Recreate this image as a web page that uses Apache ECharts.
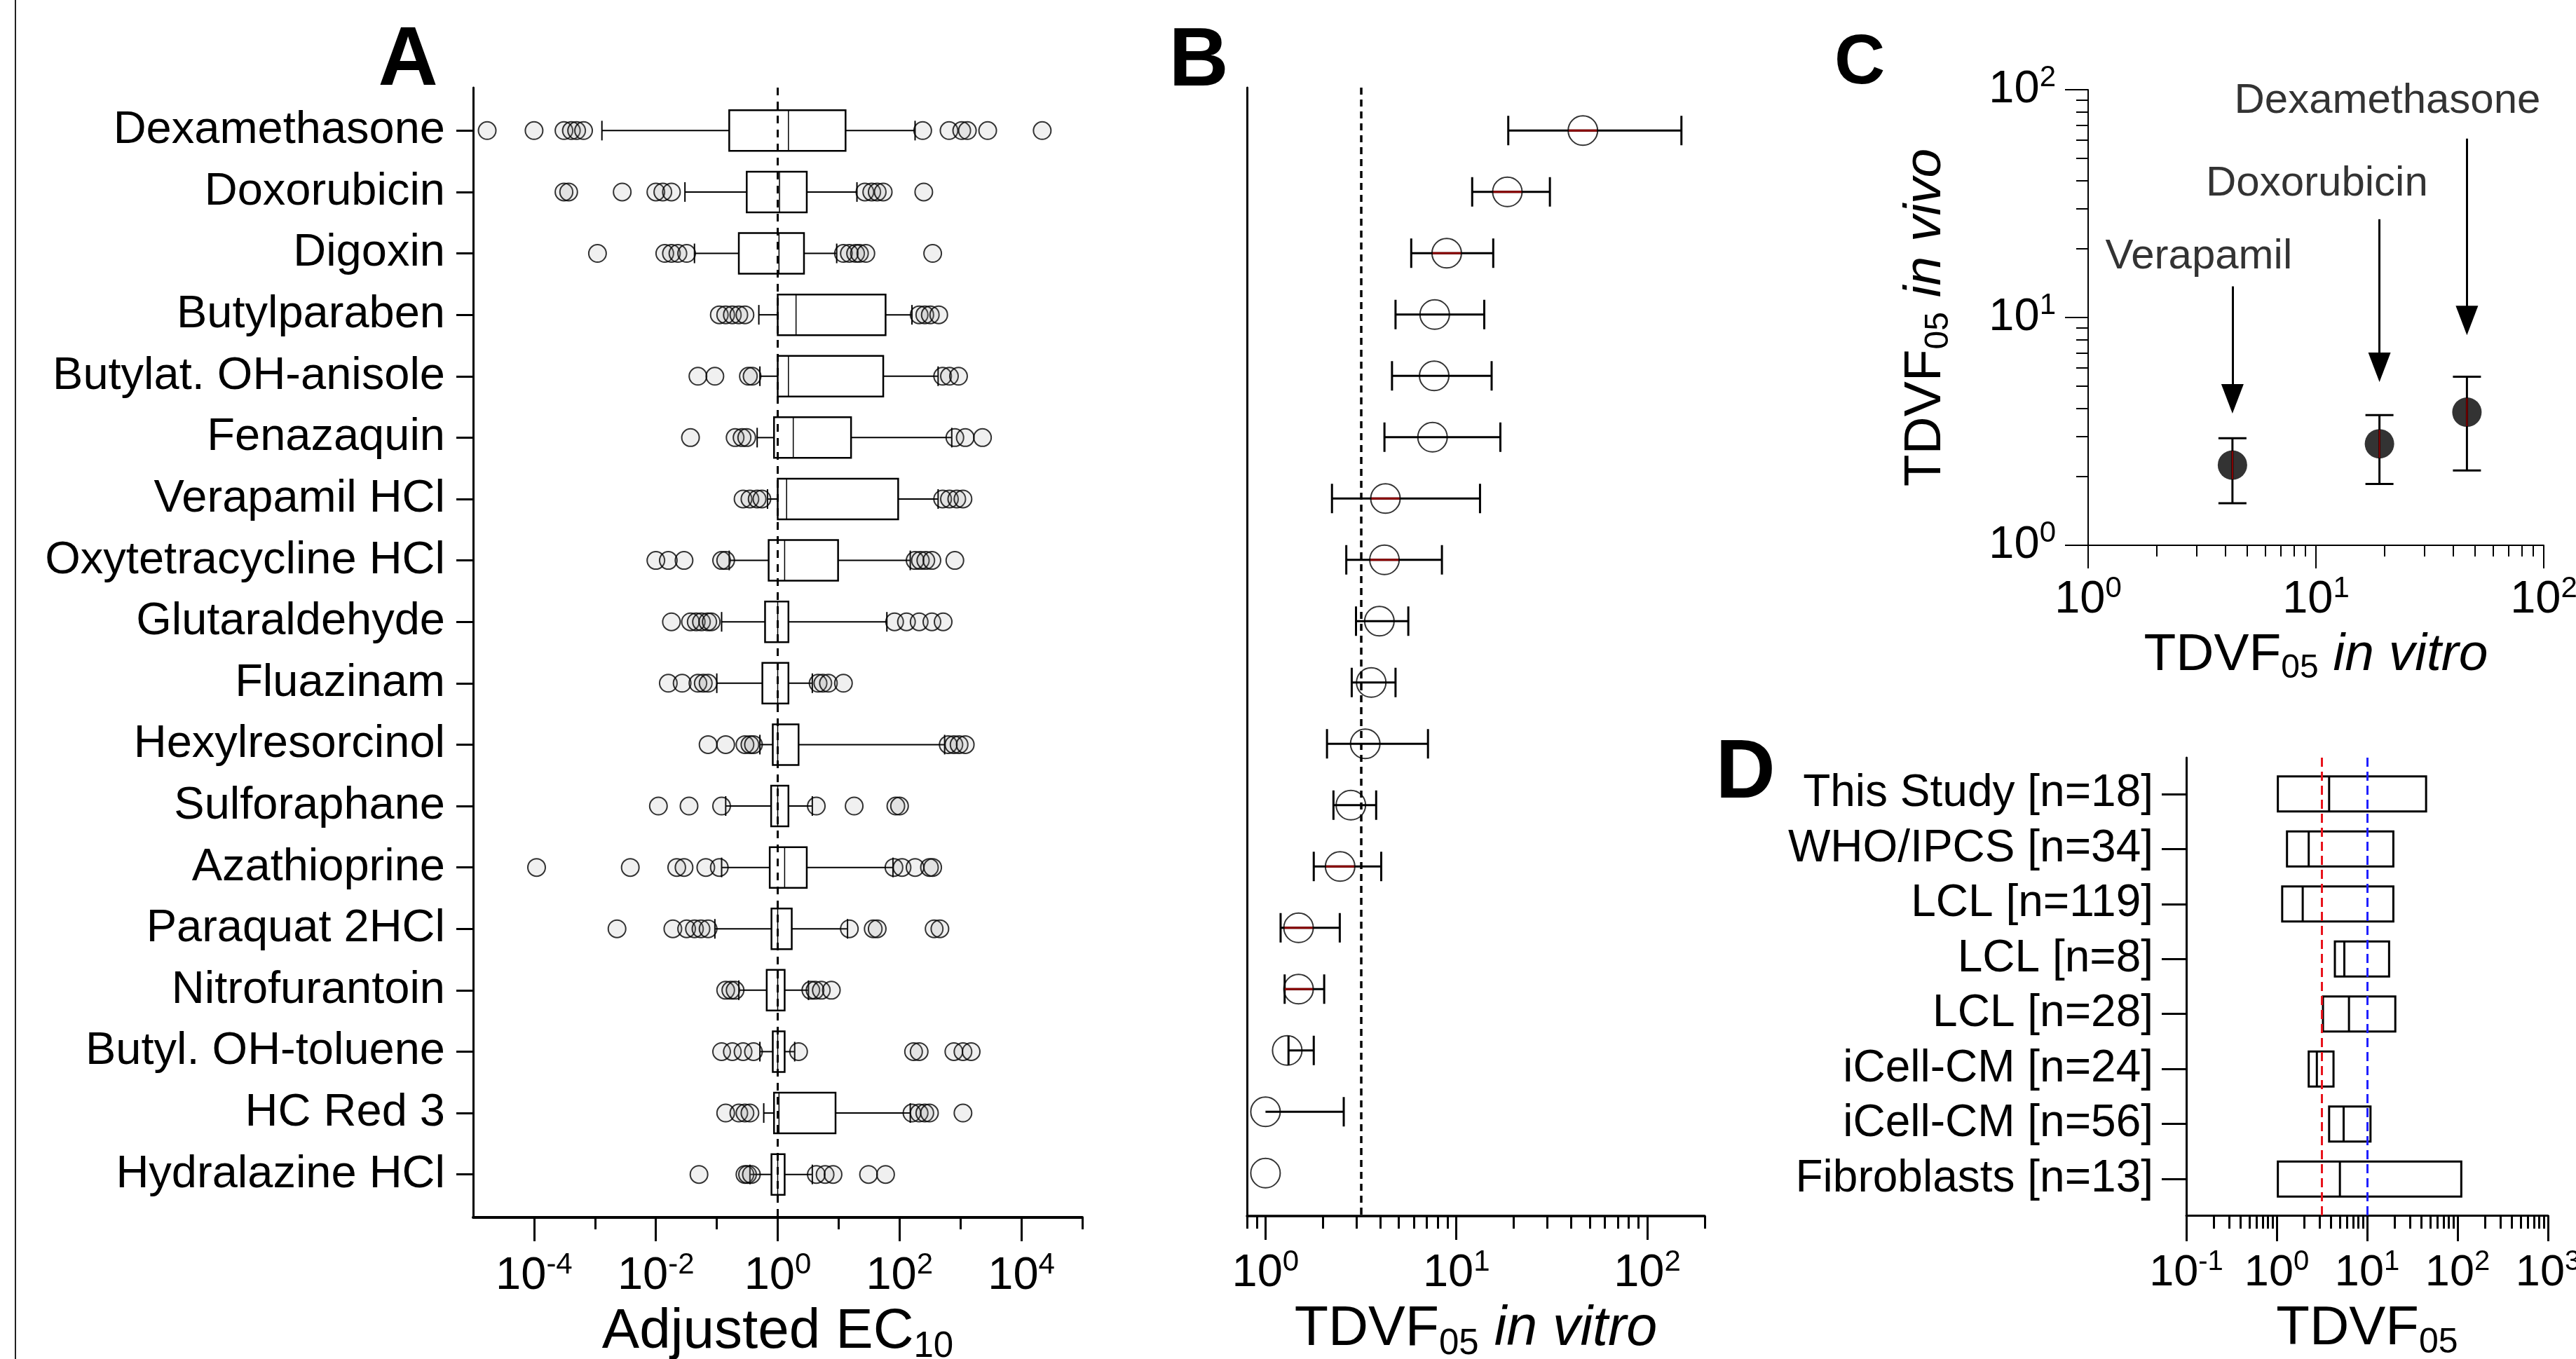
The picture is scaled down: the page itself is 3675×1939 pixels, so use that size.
<!DOCTYPE html>
<html>
<head>
<meta charset="utf-8">
<title>TDVF05 figure</title>
<script src="https://cdn.jsdelivr.net/npm/echarts@6/dist/echarts.min.js"></script>
<style>
  html, body { margin: 0; padding: 0; background: #fff; }
  #chart { width: 3675px; height: 1939px; }
</style>
</head>
<body>
<div id="chart"></div>
<script>
const FONT = '"Liberation Sans", Arial, Helvetica, sans-serif';
const lg = Math.log10;

// ---- Panel A: adjusted EC10 per chemical (box = quartiles, whiskers, outliers)
const chemicals = [
  'Dexamethasone', 'Doxorubicin', 'Digoxin', 'Butylparaben', 'Butylat. OH-anisole',
  'Fenazaquin', 'Verapamil HCl', 'Oxytetracycline HCl', 'Glutaraldehyde', 'Fluazinam',
  'Hexylresorcinol', 'Sulforaphane', 'Azathioprine', 'Paraquat 2HCl', 'Nitrofurantoin',
  'Butyl. OH-toluene', 'HC Red 3', 'Hydralazine HCl'
];
const ec10Low    = [0.0013, 0.030, 0.043, 0.49, 0.51, 0.46, 0.68, 0.16, 0.12, 0.10, 0.51, 0.14, 0.12, 0.093, 0.23, 0.51, 0.59, 0.35];
const ec10Q1     = [0.16, 0.31, 0.23, 1.0, 1.0, 0.87, 1.0, 0.71, 0.62, 0.56, 0.83, 0.78, 0.74, 0.79, 0.66, 0.83, 0.87, 0.79];
const ec10Median = [1.5, 1.07, 1.05, 2.0, 1.5, 1.8, 1.4, 1.3, 1.0, 1.0, 1.0, 1.0, 1.3, 1.0, 1.0, 1.0, 1.05, 1.0];
const ec10Q3     = [13, 3.0, 2.7, 59, 54, 16, 95, 9.8, 1.5, 1.5, 2.2, 1.5, 3.0, 1.7, 1.3, 1.3, 8.9, 1.3];
const ec10High   = [180, 20, 9.3, 160, 430, 720, 430, 150, 62, 3.7, 550, 3.7, 78, 14, 3.2, 1.9, 150, 3.7];
const ec10Outliers = [
  [1.7e-5, 1.0e-4, 3.1e-4, 4.1e-4, 5.0e-4, 6.5e-4, 240, 650, 1050, 1300, 2800, 22000],
  [3.1e-4, 3.7e-4, 2.8e-3, 0.010, 0.013, 0.018, 27, 35, 43, 54, 250],
  [1.1e-3, 0.014, 0.018, 0.023, 0.032, 12, 15, 19, 22, 28, 350],
  [0.11, 0.14, 0.18, 0.23, 0.29, 210, 260, 320, 440],
  [0.049, 0.093, 0.33, 0.38, 510, 660, 930],
  [0.037, 0.20, 0.26, 0.31, 810, 1200, 2300],
  [0.27, 0.35, 0.46, 0.55, 510, 660, 870, 1100],
  [0.010, 0.016, 0.029, 0.12, 0.14, 180, 220, 270, 340, 810],
  [0.018, 0.037, 0.046, 0.056, 0.071, 0.081, 83, 130, 210, 340, 520],
  [0.016, 0.027, 0.049, 0.060, 0.072, 4.6, 5.5, 6.8, 12],
  [0.072, 0.14, 0.29, 0.35, 0.40, 630, 780, 950, 1200],
  [0.011, 0.035, 0.12, 4.3, 18, 87, 100],
  [1.1e-4, 3.8e-3, 0.022, 0.029, 0.066, 0.11, 81, 110, 180, 310, 350],
  [2.3e-3, 0.019, 0.032, 0.043, 0.055, 0.072, 15, 37, 43, 370, 460],
  [0.14, 0.17, 0.20, 3.5, 4.1, 5.2, 7.6],
  [0.12, 0.18, 0.27, 0.40, 2.2, 170, 210, 780, 1100, 1500],
  [0.14, 0.23, 0.29, 0.35, 160, 210, 260, 310, 1100],
  [0.051, 0.29, 0.32, 0.37, 4.3, 6.0, 8.1, 31, 59]
];
const ec10Reference = 1;
const ec10LabelTicks = [1e-4, 1e-2, 1, 1e2, 1e4];
const ec10OtherTicks = [1e-3, 1e-1, 10, 1e3, 1e5];

// ---- Panel B: TDVF05 in vitro (same chemical order)
const tdvfVitro     = [46, 18.5, 8.9, 7.7, 7.65, 7.5, 4.25, 4.2, 3.95, 3.58, 3.33, 2.8, 2.46, 1.49, 1.49, 1.30, 1.0, 1.0];
const tdvfVitroLow  = [18.7, 12.1, 5.8, 4.8, 4.6, 4.2, 2.23, 2.65, 2.98, 2.83, 2.1, 2.27, 1.79, 1.2, 1.26, 1.32, 1.0, 1.0];
const tdvfVitroHigh = [151, 30.9, 15.6, 14.0, 15.3, 17.0, 13.3, 8.4, 5.6, 4.8, 7.1, 3.8, 4.04, 2.45, 2.03, 1.79, 2.57, 1.0];
const tdvfReference = 3.16;
const bLabelTicks = [1, 10, 100];
const bMinorTicks = [0.8, 0.9, 2, 3, 4, 5, 6, 7, 8, 9, 20, 30, 40, 50, 60, 70, 80, 90, 200];

// ---- Panel C: in vitro vs in vivo
const cDrugs    = ['Verapamil', 'Doxorubicin', 'Dexamethasone'];
const cVitro    = [4.3, 19, 46];
const cVivo     = [2.25, 2.79, 3.84];
const cVivoLow  = [1.53, 1.86, 2.13];
const cVivoHigh = [2.95, 3.73, 5.5];
const cLabelTicks = [1, 10, 100];
const cMinorTicks = [2, 3, 4, 5, 6, 7, 8, 9, 20, 30, 40, 50, 60, 70, 80, 90];

// ---- Panel D: TDVF05 ranges across studies
const studies = [
  'This Study [n=18]', 'WHO/IPCS [n=34]', 'LCL [n=119]', 'LCL [n=8]',
  'LCL [n=28]', 'iCell-CM [n=24]', 'iCell-CM [n=56]', 'Fibroblasts [n=13]'
];
const dLow    = [1.03, 1.3, 1.15, 4.4, 3.25, 2.26, 3.8, 1.03];
const dMedian = [3.8, 2.26, 1.94, 5.6, 6.3, 2.78, 5.5, 5.0];
const dHigh   = [44.9, 19.5, 19.5, 17.5, 20.5, 4.25, 10.9, 110];
const dReferences = [3.16, 10];
const dLabelTicks = [0.1, 1, 10, 100, 1000];
const dMinorTicks = [0.2, 0.3, 0.4, 0.5, 0.6, 0.7, 0.8, 0.9, 2, 3, 4, 5, 6, 7, 8, 9,
  20, 30, 40, 50, 60, 70, 80, 90, 200, 300, 400, 500, 600, 700, 800, 900];

// annotation placement for panel C (data space)
const cArrows = [
  { x: 4.3, from: 13.7, to: 4.4 },
  { x: 19, from: 27, to: 6.05 },
  { x: 46, from: 61, to: 9.7 }
];
const cLabelAt = [[3.06, 18.4], [10.1, 38.7], [20.6, 89]];

// rows of panel B whose bar segment inside the circle shows dark red
const redInnerB = [0, 1, 2, 6, 7, 12, 13, 14];

const chart = echarts.init(document.getElementById('chart'));

const seg = (x1, y1, x2, y2, w, color) => ({
  type: 'line',
  shape: { x1, y1, x2, y2 },
  style: { stroke: color || '#000', lineWidth: w }
});

function powRich(fs) {
  return {
    b: { fontSize: fs, lineHeight: Math.round(fs * 1.15), fontFamily: FONT, color: '#000' },
    s: { fontSize: Math.round(fs * 0.64), lineHeight: Math.round(fs * 0.82), verticalAlign: 'top', fontFamily: FONT, color: '#000' }
  };
}
const powLabel = v => `{b|10}{s|${Math.round(v)}}`;

function nameRich(fs) {
  const lh = Math.round(fs * 1.15);
  return {
    t: { fontSize: fs, lineHeight: lh, fontFamily: FONT, color: '#000' },
    sub: { fontSize: Math.round(fs * 0.64), lineHeight: Math.round(fs * 0.375), verticalAlign: 'bottom', fontFamily: FONT, color: '#000' },
    i: { fontSize: fs, lineHeight: lh, fontStyle: 'italic', fontFamily: FONT, color: '#000' }
  };
}

// main log axis: long ticks + 10^n labels
function logMain(gridIndex, min, max, ticks, o) {
  return {
    gridIndex, type: 'value', min, max, position: o.position,
    splitLine: { show: false },
    axisLine: { show: true, onZero: false, lineStyle: { color: '#000', width: o.lineW } },
    axisTick: { show: true, customValues: ticks.map(lg), length: o.tickLen, lineStyle: { color: '#000', width: o.tickW } },
    axisLabel: { show: true, customValues: ticks.map(lg), formatter: powLabel, margin: o.margin, rich: powRich(o.fs) },
    name: o.name, nameLocation: 'middle', nameGap: o.nameGap,
    nameTextStyle: o.name ? { rich: nameRich(o.nameFs) } : undefined
  };
}
// helper axis carrying only the short ticks
function logMinor(gridIndex, min, max, ticks, position, len, w) {
  return {
    gridIndex, type: 'value', min, max, position,
    splitLine: { show: false },
    axisLine: { show: false, onZero: false },
    axisTick: { show: true, customValues: ticks.map(lg), length: len, lineStyle: { color: '#000', width: w } },
    axisLabel: { show: false }
  };
}
function catAxis(gridIndex, names, min, max, o) {
  const idx = names.map((n, i) => i);
  return {
    gridIndex, type: 'value', min, max, inverse: true,
    splitLine: { show: false },
    axisLine: { show: true, onZero: false, lineStyle: { color: '#000', width: o.lineW } },
    axisTick: { show: o.ticks, customValues: idx, length: o.tickLen, lineStyle: { color: '#000', width: 3 } },
    axisLabel: { show: o.labels, customValues: idx, formatter: v => names[Math.round(v)] || '',
      fontSize: o.fs, color: '#000', fontFamily: FONT, margin: o.margin }
  };
}

function renderBoxA(params, api) {
  const row = api.value(0);
  const lo = api.coord([api.value(1), row]);
  const q1 = api.coord([api.value(2), row])[0];
  const md = api.coord([api.value(3), row])[0];
  const q3 = api.coord([api.value(4), row])[0];
  const hi = api.coord([api.value(5), row])[0];
  const y = lo[1], h = 58, c = 14;
  return {
    type: 'group',
    children: [
      seg(lo[0], y, q1, y, 2), seg(q3, y, hi, y, 2),
      seg(lo[0], y - c, lo[0], y + c, 2), seg(hi, y - c, hi, y + c, 2),
      { type: 'rect', shape: { x: q1, y: y - h / 2, width: q3 - q1, height: h },
        style: { fill: 'none', stroke: '#000', lineWidth: 2.5 } },
      seg(md, y - h / 2, md, y + h / 2, 1.5)
    ]
  };
}

function renderErrB(params, api) {
  const row = api.value(0);
  const lo = api.coord([api.value(1), row])[0];
  const mid = api.coord([api.value(2), row]);
  const hi = api.coord([api.value(3), row])[0];
  const y = mid[1], cap = 21, r = 21;
  const ch = [];
  if (hi !== lo) ch.push(seg(lo, y, hi, y, 3));
  if (lo !== mid[0]) ch.push(seg(lo, y - cap, lo, y + cap, 3));
  if (hi !== mid[0]) ch.push(seg(hi, y - cap, hi, y + cap, 3));
  if (redInnerB.indexOf(params.dataIndex) >= 0) {
    ch.push(seg(Math.max(lo, mid[0] - r), y, Math.min(hi, mid[0] + r), y, 3, '#8b0000'));
  }
  return { type: 'group', children: ch };
}

function renderErrC(params, api) {
  const x = api.value(0);
  const lo = api.coord([x, api.value(1)]);
  const hi = api.coord([x, api.value(3)]);
  const cap = 20;
  return {
    type: 'group',
    children: [
      seg(lo[0], lo[1], hi[0], hi[1], 3),
      seg(lo[0] - cap, lo[1], lo[0] + cap, lo[1], 3),
      seg(hi[0] - cap, hi[1], hi[0] + cap, hi[1], 3)
    ]
  };
}

function renderRedC(params, api) {
  const p = api.coord([api.value(0), api.value(1)]);
  return seg(p[0], p[1] - 20, p[0], p[1] + 20, 2, '#8b0000');
}

function renderBoxD(params, api) {
  const row = api.value(0);
  const lo = api.coord([api.value(1), row]);
  const md = api.coord([api.value(2), row])[0];
  const hi = api.coord([api.value(3), row])[0];
  const y = lo[1], h = 50;
  return {
    type: 'group',
    children: [
      { type: 'rect', shape: { x: lo[0], y: y - h / 2, width: hi - lo[0], height: h },
        style: { fill: 'none', stroke: '#000', lineWidth: 3 } },
      seg(md, y - h / 2, md, y + h / 2, 3)
    ]
  };
}

const dashed = (color, width, dash) => ({ color, width, type: dash });

const option = {
  backgroundColor: '#fff',
  animation: false,
  textStyle: { fontFamily: FONT, color: '#000' },
  grid: [
    { left: 675, top: 125, width: 869, height: 1612, containLabel: false, outerBoundsMode: 'none' },
    { left: 1779, top: 125, width: 653, height: 1610, containLabel: false, outerBoundsMode: 'none' },
    { left: 2979, top: 128, width: 650, height: 650, containLabel: false, outerBoundsMode: 'none' },
    { left: 3119, top: 1081, width: 516, height: 653, containLabel: false, outerBoundsMode: 'none' }
  ],
  xAxis: [
    logMain(0, -5, 5, ec10LabelTicks, { position: 'bottom', lineW: 4, tickLen: 34, tickW: 3, margin: 47, fs: 65,
      name: '{t|Adjusted EC}{sub|10}', nameGap: 118, nameFs: 80 }),
    logMinor(0, -5, 5, ec10OtherTicks, 'bottom', 17, 3),
    logMain(1, lg(0.8), lg(200), bLabelTicks, { position: 'bottom', lineW: 3.5, tickLen: 34, tickW: 3, margin: 45, fs: 65,
      name: '{t|TDVF}{sub|05}{i| in vitro}', nameGap: 117, nameFs: 79 }),
    logMinor(1, lg(0.8), lg(200), bMinorTicks, 'bottom', 18, 3),
    logMain(2, 0, 2, cLabelTicks, { position: 'bottom', lineW: 2, tickLen: 33, tickW: 2, margin: 41, fs: 65,
      name: '{t|TDVF}{sub|05}{i| in vitro}', nameGap: 114, nameFs: 75 }),
    logMinor(2, 0, 2, cMinorTicks, 'bottom', 16, 2),
    logMain(3, -1, 3, dLabelTicks, { position: 'bottom', lineW: 3, tickLen: 37, tickW: 3, margin: 47, fs: 63,
      name: '{t|TDVF}{sub|05}', nameGap: 117, nameFs: 78 }),
    logMinor(3, -1, 3, dMinorTicks, 'bottom', 19, 3)
  ],
  yAxis: [
    catAxis(0, chemicals, -0.7, 17.7, { lineW: 3, ticks: true, tickLen: 24, labels: true, fs: 65, margin: 40 }),
    catAxis(1, chemicals, -0.7, 17.7, { lineW: 3, ticks: false, tickLen: 0, labels: false, fs: 65, margin: 40 }),
    logMain(2, 0, 2, cLabelTicks, { position: 'left', lineW: 2, tickLen: 33, tickW: 2, margin: 46, fs: 65,
      name: '{t|TDVF}{sub|05}{i| in vivo}', nameGap: 189, nameFs: 75 }),
    logMinor(2, 0, 2, cMinorTicks, 'left', 17, 2),
    catAxis(3, studies, -0.66, 7.66, { lineW: 3, ticks: true, tickLen: 35, labels: true, fs: 64, margin: 47 })
  ],
  series: [
    // Panel A
    {
      type: 'custom', name: 'EC10 box', xAxisIndex: 0, yAxisIndex: 0, z: 3,
      data: chemicals.map((c, i) => [i, lg(ec10Low[i]), lg(ec10Q1[i]), lg(ec10Median[i]), lg(ec10Q3[i]), lg(ec10High[i])]),
      encode: { x: [1, 2, 3, 4, 5], y: 0 },
      renderItem: renderBoxA
    },
    {
      type: 'scatter', name: 'EC10 outliers', xAxisIndex: 0, yAxisIndex: 0, z: 4,
      data: ec10Outliers.flatMap((row, i) => row.map(v => [lg(v), i])),
      symbol: 'circle', symbolSize: 25,
      itemStyle: { color: 'rgba(140,140,140,0.16)', borderColor: '#000', borderWidth: 2 },
      markLine: {
        silent: true, symbol: 'none', label: { show: false },
        lineStyle: dashed('#000', 3, [11, 9]),
        data: [{ xAxis: lg(ec10Reference) }]
      }
    },
    // Panel B
    {
      type: 'custom', name: 'TDVF05 range', xAxisIndex: 2, yAxisIndex: 1, z: 3,
      data: chemicals.map((c, i) => [i, lg(tdvfVitroLow[i]), lg(tdvfVitro[i]), lg(tdvfVitroHigh[i])]),
      encode: { x: [1, 2, 3], y: 0 },
      renderItem: renderErrB
    },
    {
      type: 'scatter', name: 'TDVF05 in vitro', xAxisIndex: 2, yAxisIndex: 1, z: 4,
      data: chemicals.map((c, i) => [lg(tdvfVitro[i]), i]),
      symbol: 'circle', symbolSize: 42,
      itemStyle: { color: 'rgba(0,0,0,0)', borderColor: '#000', borderWidth: 2 },
      markLine: {
        silent: true, symbol: 'none', label: { show: false },
        lineStyle: dashed('#000', 3.5, [10, 7]),
        data: [{ xAxis: lg(tdvfReference) }]
      }
    },
    // Panel C
    {
      type: 'custom', name: 'in vivo range', xAxisIndex: 4, yAxisIndex: 2, z: 3,
      data: cDrugs.map((d, i) => [lg(cVitro[i]), lg(cVivoLow[i]), lg(cVivo[i]), lg(cVivoHigh[i])]),
      encode: { x: 0, y: [1, 2, 3] },
      renderItem: renderErrC
    },
    {
      type: 'scatter', name: 'in vivo vs in vitro', xAxisIndex: 4, yAxisIndex: 2, z: 4,
      data: cDrugs.map((d, i) => [lg(cVitro[i]), lg(cVivo[i])]),
      symbol: 'circle', symbolSize: 42,
      itemStyle: { color: '#000' },
      markLine: {
        silent: true, label: { show: false },
        symbol: ['none', 'triangle'],
        lineStyle: { color: '#000', width: 3, type: 'solid' },
        data: cArrows.map(a => [
          { coord: [lg(a.x), lg(a.from)] },
          { coord: [lg(a.x), lg(a.to)], symbolSize: [32, 42] }
        ])
      }
    },
    {
      type: 'custom', name: 'marker stroke', xAxisIndex: 4, yAxisIndex: 2, z: 5,
      data: cDrugs.map((d, i) => [lg(cVitro[i]), lg(cVivo[i])]),
      encode: { x: 0, y: 1 },
      renderItem: renderRedC
    },
    {
      type: 'scatter', name: 'labels', xAxisIndex: 4, yAxisIndex: 2, z: 5, silent: true,
      data: cDrugs.map((d, i) => ({ name: d, value: [lg(cLabelAt[i][0]), lg(cLabelAt[i][1])] })),
      symbolSize: 1, itemStyle: { color: 'rgba(0,0,0,0)' },
      label: { show: true, position: 'inside', formatter: '{b}', fontSize: 60, color: '#000', fontFamily: FONT }
    },
    // Panel D
    {
      type: 'custom', name: 'TDVF05 studies', xAxisIndex: 6, yAxisIndex: 4, z: 3,
      data: studies.map((s, i) => [i, lg(dLow[i]), lg(dMedian[i]), lg(dHigh[i])]),
      encode: { x: [1, 2, 3], y: 0 },
      renderItem: renderBoxD,
      markLine: {
        silent: true, symbol: 'none', label: { show: false },
        data: [
          { xAxis: lg(dReferences[0]), lineStyle: dashed('#e8141c', 3, [13, 7]) },
          { xAxis: lg(dReferences[1]), lineStyle: dashed('#1f1fff', 3, [13, 7]) }
        ]
      }
    }
  ],
  graphic: [
    { type: 'line', shape: { x1: 22, y1: 0, x2: 22, y2: 1939 }, style: { stroke: '#222', lineWidth: 2 } },
    { type: 'text', x: 582, y: 88, style: { text: 'A', fontSize: 118, fontWeight: 'bold', fontFamily: FONT, fill: '#000', align: 'center', verticalAlign: 'middle' } },
    { type: 'text', x: 1710, y: 89, style: { text: 'B', fontSize: 118, fontWeight: 'bold', fontFamily: FONT, fill: '#000', align: 'center', verticalAlign: 'middle' } },
    { type: 'text', x: 2653, y: 91, style: { text: 'C', fontSize: 100, fontWeight: 'bold', fontFamily: FONT, fill: '#000', align: 'center', verticalAlign: 'middle' } },
    { type: 'text', x: 2490, y: 1105, style: { text: 'D', fontSize: 118, fontWeight: 'bold', fontFamily: FONT, fill: '#000', align: 'center', verticalAlign: 'middle' } }
  ]
};

chart.setOption(option);
</script>
</body>
</html>
